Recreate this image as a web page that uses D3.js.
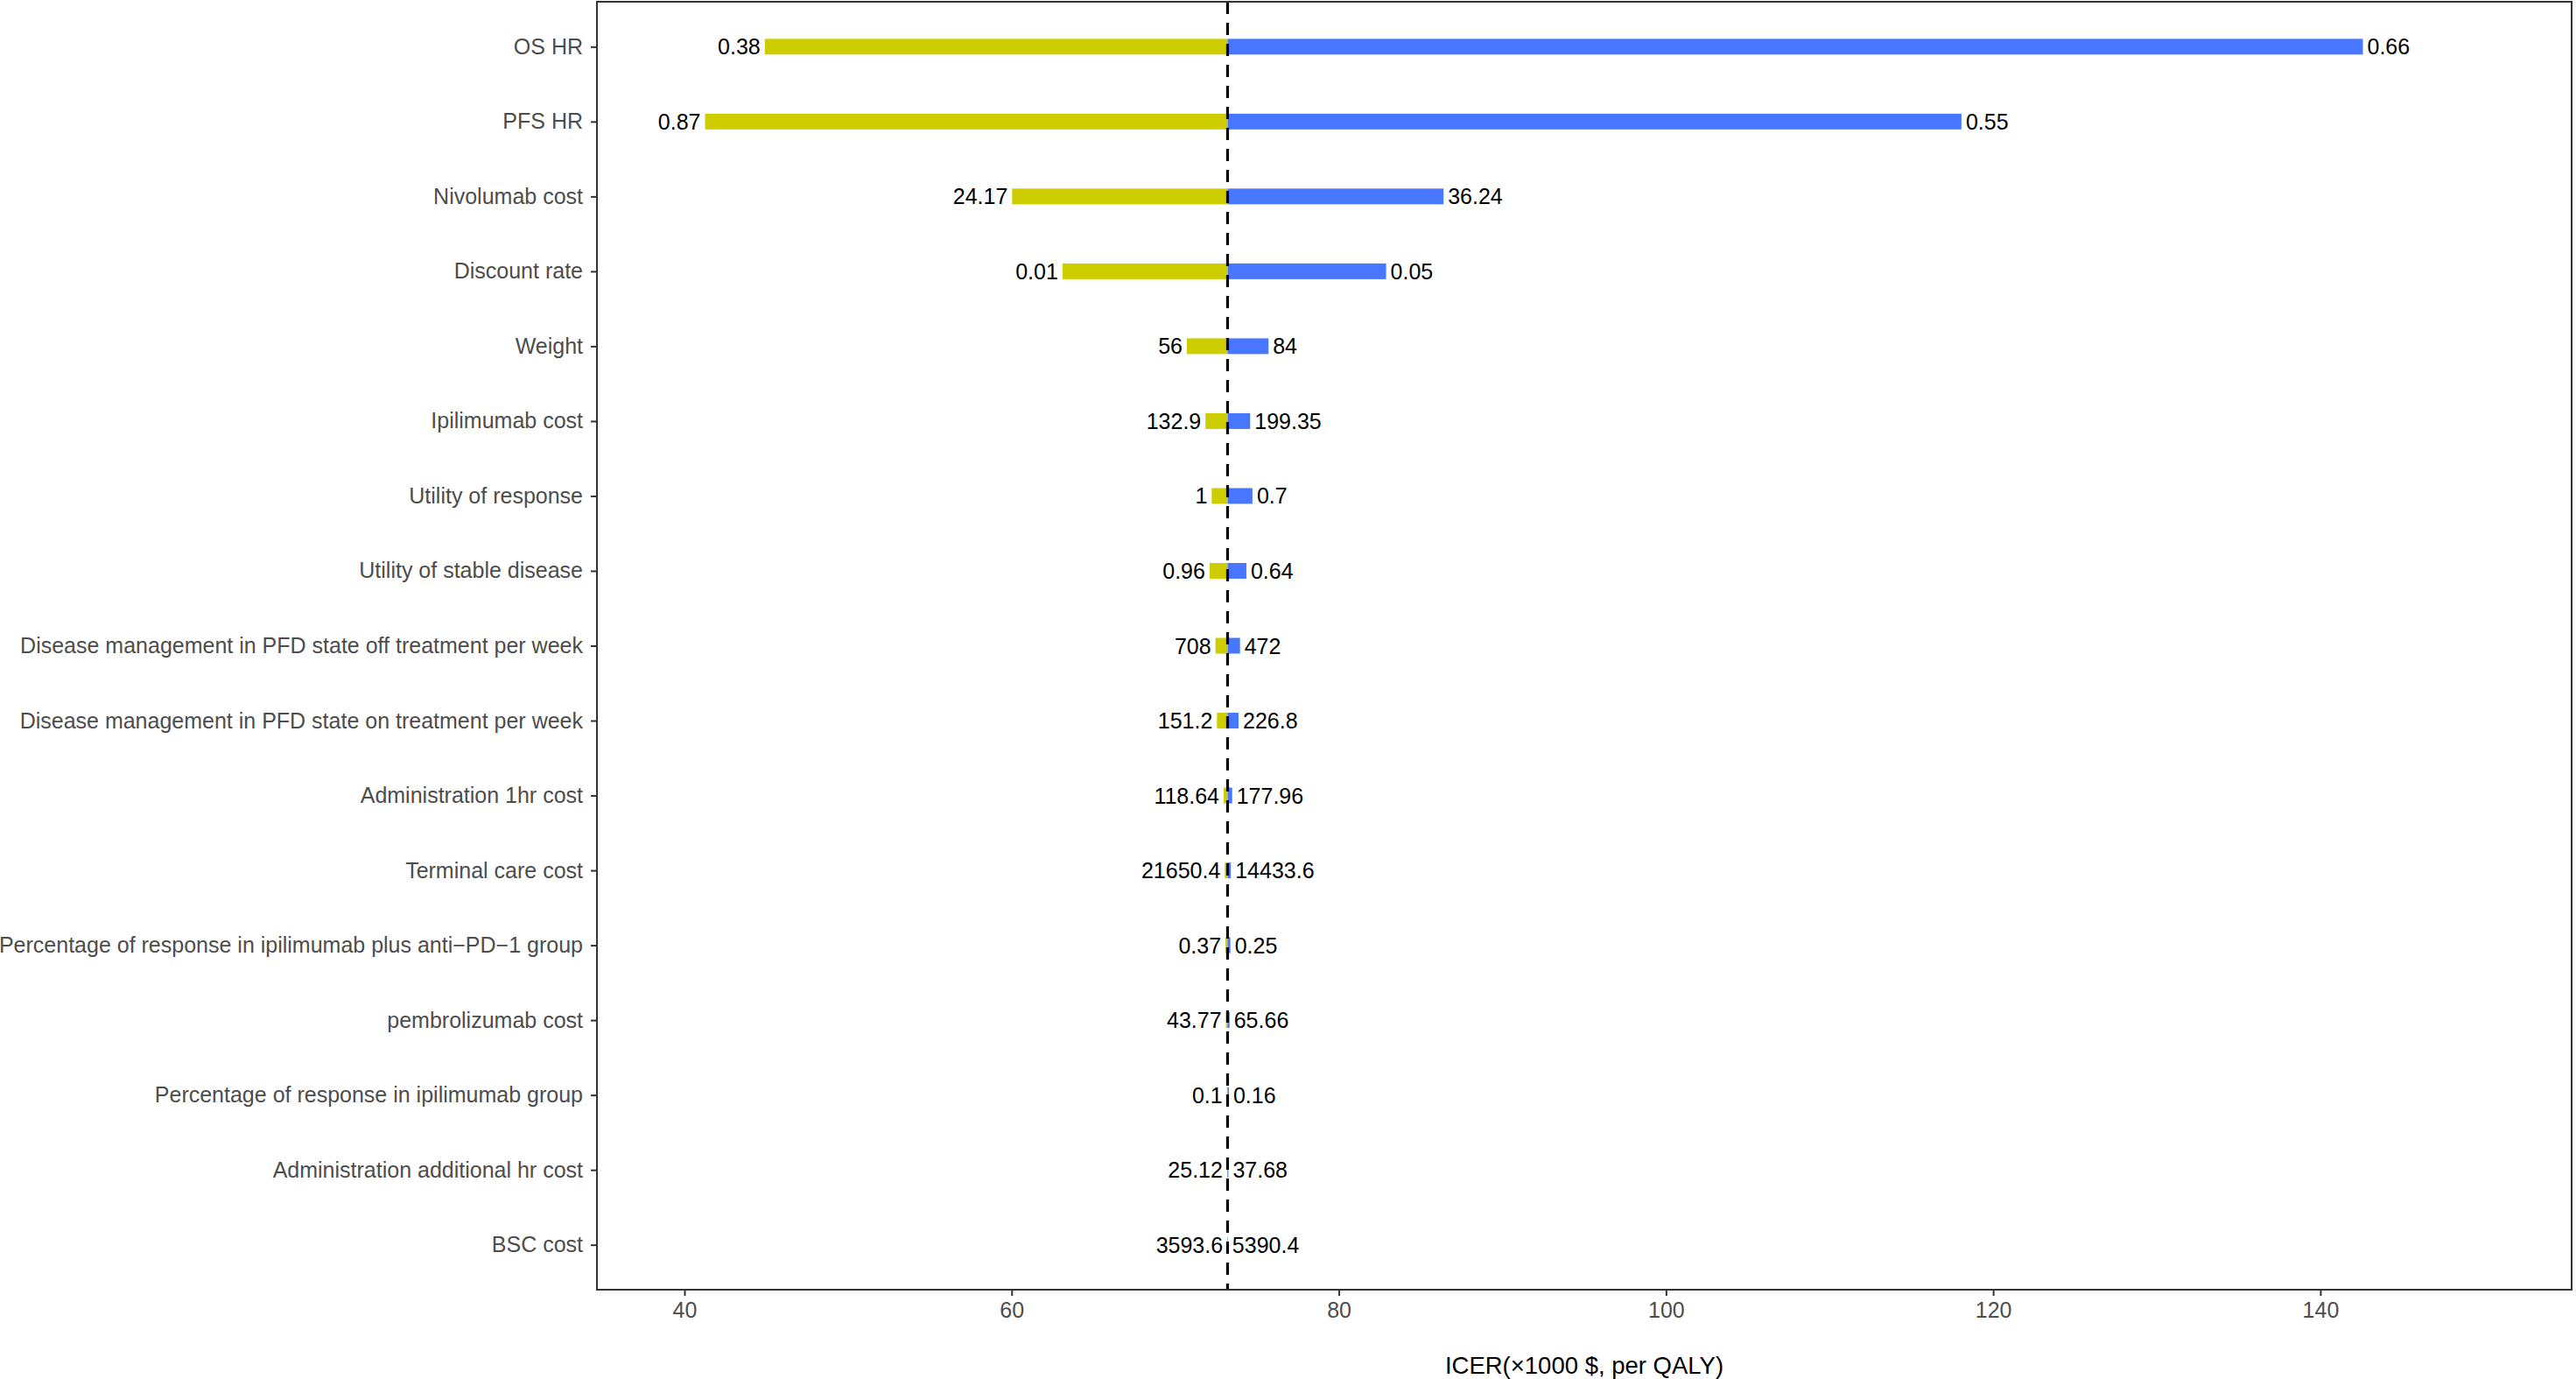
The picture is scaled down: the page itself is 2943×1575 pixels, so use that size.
<!DOCTYPE html>
<html>
<head>
<meta charset="utf-8">
<script src="https://cdn.jsdelivr.net/npm/d3@7"></script>
<style>
  html, body { margin: 0; padding: 0; background: #fff; }
  svg { display: block; }
  text { font-family: "Liberation Sans", Arial, Helvetica, sans-serif; }
</style>
</head>
<body>
<div id="chart"></div>
<script>
// ---- data ----
const categories = [
  "OS HR",
  "PFS HR",
  "Nivolumab cost",
  "Discount rate",
  "Weight",
  "Ipilimumab cost",
  "Utility of response",
  "Utility of stable disease",
  "Disease management in PFD state off treatment per week",
  "Disease management in PFD state on treatment per week",
  "Administration 1hr cost",
  "Terminal care cost",
  "Percentage of response in ipilimumab plus anti\u2212PD\u22121 group",
  "pembrolizumab cost",
  "Percentage of response in ipilimumab group",
  "Administration additional hr cost",
  "BSC cost"
];
const baseICER = 73.2;
const lowICER  = [44.91, 41.26, 60.03, 63.11, 70.71, 71.85, 72.23, 72.10, 72.46, 72.55, 72.96, 73.03, 73.07, 73.10, 73.16, 73.17, 73.18];
const highICER = [142.60, 118.06, 86.40, 82.89, 75.70, 74.58, 74.72, 74.35, 73.96, 73.87, 73.48, 73.40, 73.37, 73.32, 73.28, 73.25, 73.22];
const lowLabels  = ["0.38","0.87","24.17","0.01","56","132.9","1","0.96","708","151.2","118.64","21650.4","0.37","43.77","0.1","25.12","3593.6"];
const highLabels = ["0.66","0.55","36.24","0.05","84","199.35","0.7","0.64","472","226.8","177.96","14433.6","0.25","65.66","0.16","37.68","5390.4"];
const xTicks = [40, 60, 80, 100, 120, 140];
const xDomain = [34.65, 155.36];
const xTitle = "ICER(\u00d71000 $, per QALY)";

// ---- layout ----
const W = 2943, H = 1575;
const panel = { left: 682, right: 2938, top: 2, bottom: 1473 };
const yellow = "#CDCD00", blue = "#4876FF";
const textSize = 25;

const svg = d3.select("#chart").append("svg")
  .attr("width", W).attr("height", H);

const x = d3.scaleLinear().domain(xDomain).range([panel.left, panel.right]);
const y = d3.scalePoint().domain(categories).range([panel.top, panel.bottom]).padding(0.6);
const barH = y.step() * 0.21;

const rows = categories.map((c, i) => ({
  cat: c, low: lowICER[i], high: highICER[i], lowLab: lowLabels[i], highLab: highLabels[i]
}));

// bars (low side, yellow)
svg.append("g").selectAll("rect").data(rows).join("rect")
  .attr("x", d => x(Math.min(d.low, baseICER)))
  .attr("width", d => Math.abs(x(baseICER) - x(d.low)))
  .attr("y", d => y(d.cat) - barH / 2)
  .attr("height", barH)
  .attr("fill", yellow);

// bars (high side, blue)
svg.append("g").selectAll("rect").data(rows).join("rect")
  .attr("x", d => x(Math.min(d.high, baseICER)))
  .attr("width", d => Math.abs(x(d.high) - x(baseICER)))
  .attr("y", d => y(d.cat) - barH / 2)
  .attr("height", barH)
  .attr("fill", blue);

// value labels
const gap = 5;
svg.append("g").selectAll("text").data(rows).join("text")
  .attr("x", d => x(d.low) - gap)
  .attr("y", d => y(d.cat))
  .attr("dy", "0.36em")
  .attr("text-anchor", "end")
  .attr("font-size", textSize)
  .attr("fill", "#000")
  .text(d => d.lowLab);

svg.append("g").selectAll("text").data(rows).join("text")
  .attr("x", d => x(d.high) + gap)
  .attr("y", d => y(d.cat))
  .attr("dy", "0.36em")
  .attr("text-anchor", "start")
  .attr("font-size", textSize)
  .attr("fill", "#000")
  .text(d => d.highLab);

// dashed reference line
svg.append("line")
  .attr("x1", x(baseICER)).attr("x2", x(baseICER))
  .attr("y1", panel.top).attr("y2", panel.bottom)
  .attr("stroke", "#000")
  .attr("stroke-width", 3.2)
  .attr("stroke-dasharray", "14,10");

// panel border
svg.append("rect")
  .attr("x", panel.left).attr("y", panel.top)
  .attr("width", panel.right - panel.left)
  .attr("height", panel.bottom - panel.top)
  .attr("fill", "none")
  .attr("stroke", "#333333")
  .attr("stroke-width", 2);

// x axis
const gx = svg.append("g")
  .attr("transform", `translate(0,${panel.bottom})`)
  .call(d3.axisBottom(x).tickValues(xTicks).tickSize(7).tickPadding(7).tickFormat(d3.format("d")));
gx.select(".domain").remove();
gx.selectAll(".tick line").attr("stroke", "#333333").attr("stroke-width", 2);
gx.selectAll(".tick text")
  .attr("font-size", textSize)
  .attr("font-family", "Liberation Sans, Arial, sans-serif")
  .attr("fill", "#4D4D4D");

// y axis
const gy = svg.append("g")
  .attr("transform", `translate(${panel.left},0)`)
  .call(d3.axisLeft(y).tickSize(7).tickPadding(9));
gy.select(".domain").remove();
gy.selectAll(".tick line").attr("stroke", "#333333").attr("stroke-width", 2);
gy.selectAll(".tick text")
  .attr("font-size", textSize)
  .attr("font-family", "Liberation Sans, Arial, sans-serif")
  .attr("fill", "#4D4D4D");

// x title
svg.append("text")
  .attr("x", (panel.left + panel.right) / 2)
  .attr("y", 1569)
  .attr("text-anchor", "middle")
  .attr("font-size", 27.5)
  .attr("fill", "#000")
  .text(xTitle);
</script>
</body>
</html>
